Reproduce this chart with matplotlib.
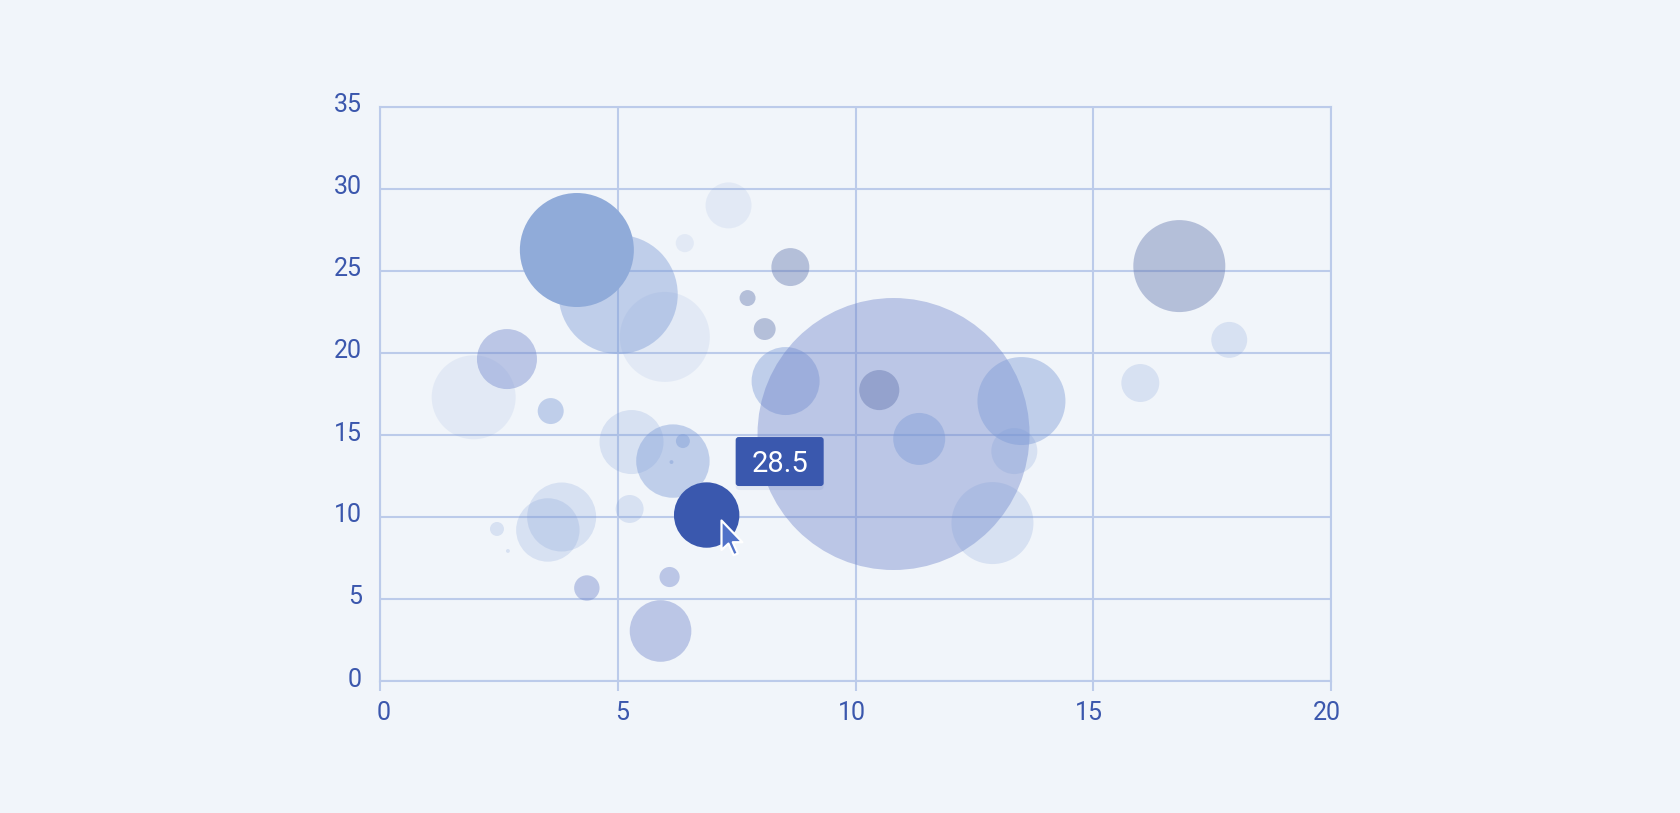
import numpy as np
import matplotlib.pyplot as plt
import matplotlib.transforms as mtransforms
from matplotlib.colors import to_rgba
from matplotlib.patches import FancyBboxPatch
from matplotlib.path import Path

plt.rcParams['font.family'] = ['Roboto', 'DejaVu Sans']

# bubble data: x, y, value (area ~ value), colour group
xs = [5.01, 4.14, 5.99, 2.67, 1.97, 3.59, 5.29, 6.16, 6.37, 6.13,
      3.82, 3.53, 2.46, 2.69, 5.25, 4.35, 6.09, 5.90, 7.33, 8.63,
      7.73, 8.09, 8.53, 10.80, 10.50, 11.34, 13.49, 13.34, 12.88, 16.81,
      17.86, 15.99, 6.41, 6.87]
ys = [23.57, 26.28, 20.98, 19.63, 17.3, 16.46, 14.57, 13.41, 14.63, 13.35,
      10.0, 9.21, 9.27, 7.93, 10.49, 5.67, 6.34, 3.05, 29.0, 25.24,
      23.35, 21.46, 18.29, 15.06, 17.74, 14.76, 17.07, 14.02, 9.63, 25.3,
      20.8, 18.17, 26.7, 10.12]
values = [94.4, 86.6, 54.0, 24.0, 47.0, 4.5, 27.3, 35.9, 1.3, 0.1,
          31.7, 26.8, 1.3, 0.1, 5.2, 4.3, 2.7, 25.3, 14.1, 9.6,
          1.7, 3.2, 30.8, 493.0, 10.7, 18.0, 51.6, 14.1, 44.8, 56.4,
          8.6, 9.6, 2.2, 28.5]
groups = ['sky', 'strong', 'pale', 'slate', 'pale', 'sky', 'light', 'sky', 'sky', 'sky',
          'light', 'light', 'light', 'light', 'light', 'slate', 'slate', 'slate', 'pale', 'gray',
          'gray', 'gray', 'sky', 'slate', 'gray', 'sky', 'sky', 'light', 'light', 'gray',
          'light', 'light', 'pale', 'focus']
focus = groups.index('focus')

x_ticks = [0, 5, 10, 15, 20]
y_ticks = [0, 5, 10, 15, 20, 25, 30, 35]

BG = '#f1f5fa'
GRID = '#bccbea'
TEXT = '#3b57ad'
palette = {
    'pale': ('#7b9ad6', 0.12),
    'light': ('#7b9ad6', 0.22),
    'sky': ('#7b9ad6', 0.42),
    'slate': ('#6a80c8', 0.40),
    'gray': ('#5a6ea8', 0.40),
    'strong': ('#90abd9', 1.0),
    'focus': ('#3a58ae', 1.0),
}
DPI = 100
K = 6.125  # pixels of radius per sqrt(value)

fig = plt.figure(figsize=(16.8, 8.13), dpi=DPI, facecolor=BG)
ax = fig.add_axes([380 / 1680, 1 - 681 / 813, 951 / 1680, 574 / 813])
ax.set_facecolor(BG)
ax.set_xlim(0, 20)
ax.set_ylim(0, 35)
ax.set_xticks(x_ticks)
ax.set_yticks(y_ticks)
ax.set_axisbelow(True)
ax.grid(True, color=GRID, lw=1.5)
for sp in ax.spines.values():
    sp.set_color(GRID)
    sp.set_linewidth(1.5)
ax.tick_params(axis='x', direction='out', length=7.2, width=1.5, color=GRID,
               labelsize=18, labelcolor=TEXT, pad=7)
ax.tick_params(axis='y', length=0, labelsize=18, labelcolor=TEXT, pad=13)
for lab in ax.get_yticklabels():
    lab.set_transform(lab.get_transform() +
                      mtransforms.ScaledTranslation(0, 4 / DPI, fig.dpi_scale_trans))
for t, lab in zip(x_ticks, ax.get_xticklabels()):
    dx = 4 if len(str(t)) == 1 else -4
    lab.set_transform(lab.get_transform() +
                      mtransforms.ScaledTranslation(dx / DPI, 0, fig.dpi_scale_trans))

radius = K * np.sqrt(np.array(values))
sizes = (2 * radius * 72 / DPI) ** 2
colors = [to_rgba(*palette[g]) for g in groups]
ax.scatter(xs, ys, s=sizes, c=colors, linewidths=0, zorder=2)

# tooltip + cursor, placed in pixels relative to the focused bubble
tr = mtransforms.Affine2D() + mtransforms.ScaledTranslation(xs[focus], ys[focus], ax.transData)
ax.add_patch(FancyBboxPatch((29, 25), 88, 49, boxstyle='round,pad=0,rounding_size=4',
                            transform=tr, fc=(0.23, 0.34, 0.68, 0.08), ec='none',
                            zorder=4, clip_on=False))
ax.add_patch(FancyBboxPatch((29, 29), 88, 49, boxstyle='round,pad=0,rounding_size=3',
                            transform=tr, fc='#3a58ae', ec='none', zorder=5, clip_on=False))
ax.text(73, 43, f'{values[focus]}', transform=tr, ha='center', va='baseline',
        color='white', fontsize=21, zorder=6)

arrow = Path([(0, 0), (0, -17), (4, -13.3), (7, -20), (9.4, -19), (6.5, -12.5),
              (12, -12.5), (0, 0)], closed=True)
ax.plot([xs[focus]], [ys[focus]], marker=arrow, ms=50, color='#5172c8',
        mec='white', mew=1.6, ls='none', zorder=7, clip_on=False,
        transform=ax.transData + mtransforms.ScaledTranslation(14 / DPI, -5 / DPI,
                                                               fig.dpi_scale_trans))

fig.savefig('out.png', dpi=DPI, facecolor=BG)
